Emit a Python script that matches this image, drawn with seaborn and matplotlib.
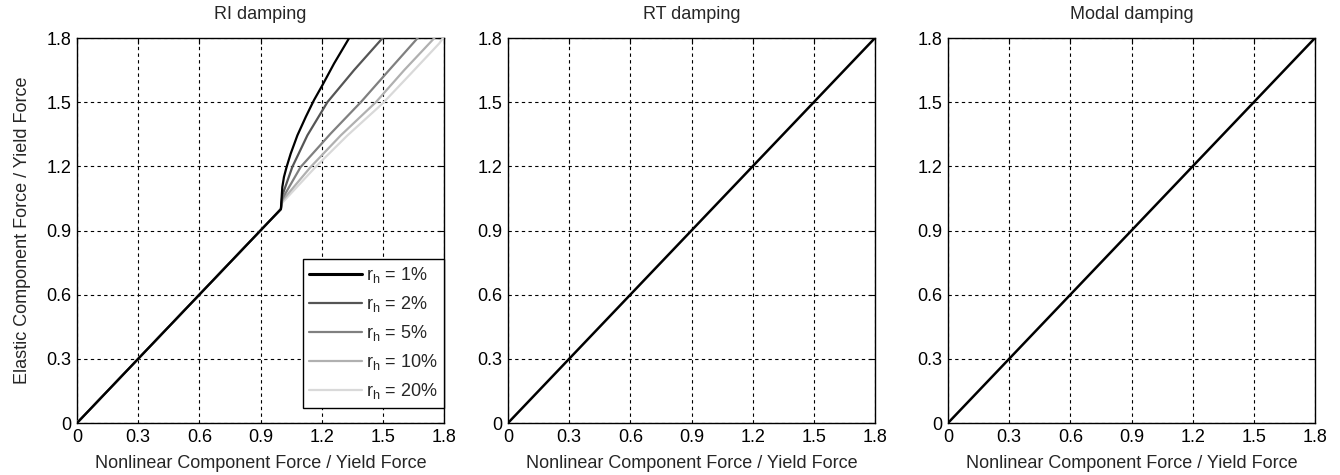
import matplotlib
matplotlib.use("Agg")
import matplotlib.pyplot as plt
import numpy as np
import pandas as pd
import seaborn as sns

# Hardening ratios and their grey levels
ratios = ["1%", "2%", "5%", "10%", "20%"]
colors = ["#000000", "#555555", "#808080", "#b0b0b0", "#d9d9d9"]

# Elastic branch shared by all ratios
lin_x = [0.0, 0.3, 0.6, 0.9, 1.0]
lin_y = [0.0, 0.3, 0.6, 0.9, 1.0]

# Post-yield branches (RI damping)
x_1 = [1.0, 1.007, 1.015, 1.028, 1.048, 1.081, 1.122, 1.162, 1.204, 1.261, 1.335]
y_1 = [1.0, 1.103, 1.150, 1.197, 1.259, 1.345, 1.431, 1.509, 1.580, 1.681, 1.800]
x_2 = [1.0, 1.007, 1.056, 1.130, 1.228, 1.359, 1.499]
y_2 = [1.0, 1.064, 1.197, 1.345, 1.500, 1.650, 1.800]
x_5 = [1.0, 1.007, 1.097, 1.244, 1.392, 1.531, 1.671]
y_5 = [1.0, 1.048, 1.197, 1.353, 1.500, 1.650, 1.800]
x_10 = [1.0, 1.007, 1.146, 1.294, 1.466, 1.605, 1.753]
y_10 = [1.0, 1.040, 1.197, 1.345, 1.500, 1.650, 1.800]
x_20 = [1.0, 1.007, 1.170, 1.327, 1.499, 1.638, 1.777, 1.795]
y_20 = [1.0, 1.030, 1.197, 1.345, 1.494, 1.634, 1.775, 1.800]

# RT and modal damping: elastic force tracks the nonlinear force
rt_x = [0.0, 0.3, 0.6, 0.9, 1.2, 1.5, 1.8]
rt_y = [0.0, 0.3, 0.6, 0.9, 1.2, 1.5, 1.8]
md_x = [0.0, 0.3, 0.6, 0.9, 1.2, 1.5, 1.8]
md_y = [0.0, 0.3, 0.6, 0.9, 1.2, 1.5, 1.8]

titles = ["RI damping", "RT damping", "Modal damping"]
ticks = [0.0, 0.3, 0.6, 0.9, 1.2, 1.5, 1.8]
tick_labels = ["0", "0.3", "0.6", "0.9", "1.2", "1.5", "1.8"]
xlabel = "Nonlinear Component Force / Yield Force"
ylabel = "Elastic Component Force / Yield Force"

sns.set_style("white")
plt.rcParams["font.family"] = ["Liberation Sans", "DejaVu Sans"]
plt.rcParams["mathtext.default"] = "regular"
FS = 13

post = {"1%": (x_1, y_1), "2%": (x_2, y_2), "5%": (x_5, y_5),
        "10%": (x_10, y_10), "20%": (x_20, y_20)}
rows = []
for r in ratios:
    px, py = post[r]
    xs = lin_x[:-1] + px
    ys = lin_y[:-1] + py
    for i, (a, b) in enumerate(zip(xs, ys)):
        rows.append({"x": a, "y": b, "ratio": r, "order": i})
ri_df = pd.DataFrame(rows)
rt_df = pd.DataFrame({"x": rt_x, "y": rt_y})
md_df = pd.DataFrame({"x": md_x, "y": md_y})

fig = plt.figure(figsize=(13.4, 4.75), dpi=100)
W, H = 1340.0, 475.0
lefts = [77, 508, 948]
width = 367
top, bottom = 38, 423
axes = [fig.add_axes([l / W, 1 - bottom / H, width / W, (bottom - top) / H]) for l in lefts]

# RI panel
ax = axes[0]
sns.lineplot(data=ri_df, x="x", y="y", hue="ratio", hue_order=ratios,
             palette=dict(zip(ratios, colors)), sort=False, estimator=None,
             linewidth=1.6, ax=ax, legend=False)
for i, line in enumerate(ax.lines):
    line.set_zorder(10 - i)
handles = [plt.Line2D([], [], color=c, lw=(2.2 if i == 0 else 1.6)) for i, c in enumerate(colors)]
labels = ["r$_{h}$ = " + r for r in ratios]
leg = ax.legend(handles, labels, loc="lower right", bbox_to_anchor=(1.0, 0.04),
                fontsize=FS, frameon=True, fancybox=False, framealpha=1,
                edgecolor="black", handlelength=2.9, borderpad=0.35,
                labelspacing=0.5, handletextpad=0.25, borderaxespad=0.0)
leg.get_frame().set_linewidth(1.0)
leg.set_zorder(20)

sns.lineplot(data=rt_df, x="x", y="y", color="black", linewidth=1.8, ax=axes[1], sort=False, estimator=None)
sns.lineplot(data=md_df, x="x", y="y", color="black", linewidth=1.8, ax=axes[2], sort=False, estimator=None)

for i, ax in enumerate(axes):
    ax.set_xlim(0, 1.8)
    ax.set_ylim(0, 1.8)
    ax.set_xticks(ticks)
    ax.set_yticks(ticks)
    ax.set_xticklabels(tick_labels)
    ax.set_yticklabels(tick_labels)
    ax.tick_params(direction="in", length=4, width=0.8, top=True, right=True,
                   labelsize=FS, pad=4, colors="black")
    ax.grid(True, color="black", linestyle=(0, (3, 3)), linewidth=0.8)
    ax.set_axisbelow(True)
    for s in ax.spines.values():
        s.set_color("black")
        s.set_linewidth(1.0)
        s.set_visible(True)
    ax.set_title(titles[i], fontsize=FS, pad=14)
    ax.set_xlabel(xlabel, fontsize=FS, labelpad=7)
    ax.set_ylabel(ylabel if i == 0 else "", fontsize=FS, labelpad=11)

fig.savefig("out.png", dpi=100, facecolor="white")
